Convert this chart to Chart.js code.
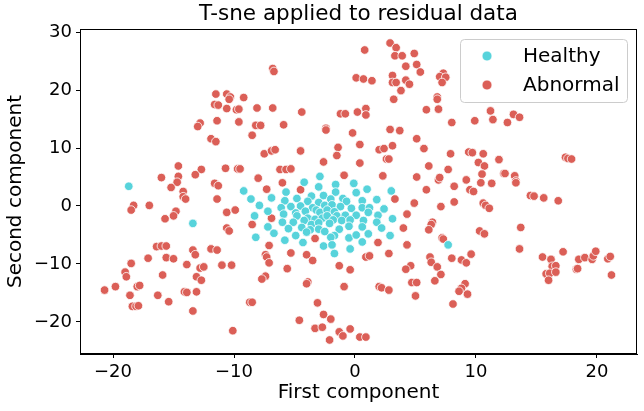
<!DOCTYPE html>
<html>
<head>
<meta charset="utf-8">
<script src="https://cdn.jsdelivr.net/npm/chart.js@4.4.0/dist/chart.umd.min.js"></script>
<style>
  html, body { margin: 0; padding: 0; background: #fff; }
  #wrap { position: relative; width: 644px; height: 411px; }
</style>
</head>
<body>
<div id="wrap"><canvas id="tsneChart"></canvas></div>
<script>
// Series (t-SNE components)
const seriesNames = ['Healthy', 'Abnormal'];
const seriesColors = ['#57d3db', '#db5f57'];

const healthyX = [-18.7,-13.4,-9.2,-8.6,-7.9,-6.9,-5.7,-4.2,-2.9,-3.0,
  -1.6,-1.6,-0.1,0.1,-3.6,-2.6,-4.8,-5.8,-3.9,-3.0,
  -2.0,-1.0,-0.7,-5.3,-6.1,-4.5,-3.5,-2.5,-1.9,-1.2,
  -0.3,-7.2,-8.3,-5.9,-4.9,-4.1,-3.2,-2.9,-2.3,-1.7,
  -1.5,-0.8,0.1,-4.8,-3.9,-3.3,-2.7,-2.3,-1.8,-1.1,
  -6.0,-5.1,-4.2,-3.6,-3.0,-2.1,-0.4,-7.2,-5.5,-4.4,
  -3.7,-3.0,-2.5,-1.3,-0.5,-6.7,-8.2,-5.8,-4.9,-4.0,
  -1.7,-2.0,-0.5,0.1,-4.3,-2.6,-1.9,-1.7,-0.4,1.0,
  3.0,0.6,1.8,0.6,1.2,2.4,1.1,1.9,3.1,0.7,
  1.8,0.6,2.2,1.1,2.9,0.6,7.7];
const healthyY = [3.4,-3.0,2.6,1.2,0.1,1.4,2.4,4.1,5.1,3.3,
  3.7,2.4,3.9,2.3,1.7,1.8,1.3,0.9,0.8,0.6,
  1.2,1.3,0.8,-0.1,-0.3,0.0,-0.3,0.1,0.2,-0.1,
  -0.4,-0.9,-1.7,-1.4,-1.2,-0.9,-0.7,-1.1,-0.7,-1.0,
  -1.7,-1.6,-1.6,-1.7,-2.1,-2.3,-2.1,-1.7,-2.4,-2.5,
  -2.8,-2.8,-2.5,-3.2,-2.9,-3.0,-2.4,-3.6,-3.9,-3.7,
  -4.1,-4.0,-4.4,-4.0,-3.5,-4.7,-5.4,-5.9,-5.1,-4.5,
  -5.1,-5.4,-5.5,-5.0,-6.3,-6.9,-6.7,-8.2,-7.4,2.9,
  2.6,0.9,1.1,-0.3,-0.3,-0.5,-1.1,-1.6,-2.2,-2.5,
  -2.8,-3.6,-3.8,-4.8,-5.1,-6.2,-6.7];

const abnormalX = [-11.5,-11.6,-11.3,-11.4,-12.8,-13.0,-6.8,-6.7,0.1,-10.6,
  -10.3,-10.4,-9.2,-10.6,-9.8,-9.6,-8.1,-6.8,-4.4,-1.2,
  -0.8,0.2,-9.6,-8.2,-7.8,-5.9,-2.4,-0.2,-8.5,0.8,
  2.9,3.4,3.3,3.9,4.9,4.2,5.1,5.4,0.7,1.4,
  3.1,3.1,3.4,4.2,4.5,3.8,3.2,7.3,7.0,7.5,
  7.2,6.8,6.8,5.9,6.9,0.9,0.9,8.0,9.9,11.2,
  11.4,2.9,3.7,13.1,13.6,12.6,-11.9,-11.5,-14.6,-12.7,
  -13.2,-16.0,-14.6,-14.7,-15.2,-11.6,-11.3,-14.2,-14.2,-14.0,
  -11.4,-18.3,-18.5,-17.0,-14.8,-15.0,-15.7,-2.4,-7.5,-6.9,
  -6.6,-4.5,-1.4,-1.5,0.4,-2.6,0.4,-10.7,-9.7,-9.5,
  -6.2,-5.7,-5.3,-8.0,-6.0,-0.9,-4.5,-7.3,-10.6,-9.9,
  -6.9,-8.5,-10.6,-10.4,-3.3,-7.1,5.1,2.0,2.4,3.1,
  5.7,2.6,2.8,7.9,9.4,9.7,10.6,10.2,10.7,11.9,
  6.1,7.7,2.3,5.1,6.9,7.0,10.5,9.2,10.4,11.3,
  8.2,5.9,9.5,9.8,3.3,4.9,8.2,7.1,10.6,10.8,
  11.1,4.3,6.4,6.3,4.0,6.1,10.3,10.7,7.2,7.3,
  1.9,4.3,17.4,17.6,17.9,12.3,12.4,13.2,13.3,13.3,
  14.5,14.8,15.6,16.8,13.7,-16.4,-16.0,-15.6,-13.4,-13.2,
  -11.9,-11.4,-17.1,-15.6,-15.0,-18.5,-13.9,-12.8,-12.5,-19.0,
  -18.9,-15.9,-13.1,-12.7,-20.7,-19.8,-18.0,-17.8,-18.6,-16.3,
  -14.1,-13.9,-13.1,-15.4,-18.4,-18.1,-17.9,-13.4,-7.4,-7.3,
  -5.3,-4.0,-3.5,-7.1,-11.0,-10.2,-5.6,-1.3,-0.4,-7.4,
  -7.7,-3.9,-4.0,-0.9,-8.7,-8.5,-3.1,-2.6,-2.0,-4.6,
  -3.3,-2.7,-1.3,-1.0,-0.4,-2.1,-10.1,0.4,0.9,1.2,
  2.8,6.2,6.3,6.8,8.0,8.8,9.2,9.6,4.6,4.2,
  7.1,4.7,5.1,6.6,2.0,2.2,2.8,5.0,9.1,8.8,
  8.6,9.3,8.1,0.9,13.6,15.5,16.2,17.2,18.5,19.0,
  19.6,19.7,19.9,20.9,21.1,16.3,16.6,15.8,16.1,16.6,
  18.3,18.4,16.0,21.2];
const abnormalY = [19.3,17.5,17.4,14.7,14.3,13.7,23.7,23.2,22.1,19.3,
  18.8,18.4,18.7,16.8,16.6,16.7,16.9,16.9,16.2,15.9,
  15.9,16.2,14.5,13.9,13.9,14.0,13.4,12.6,12.2,26.9,
  28.1,27.3,25.9,25.9,26.3,24.1,24.4,23.1,21.9,21.6,
  22.5,21.3,21.3,21.7,21.0,19.9,18.4,22.9,22.3,22.2,
  21.3,18.8,18.4,16.6,16.7,16.8,15.7,14.4,14.7,16.4,
  14.9,13.2,13.0,15.8,15.3,14.4,11.6,11.1,6.9,6.3,
  5.4,4.9,5.1,4.1,3.2,3.9,3.5,2.5,1.6,1.2,
  1.2,0.1,-0.7,0.1,-0.9,-1.7,-2.2,13.1,9.0,9.5,
  9.7,9.5,10.1,8.7,10.6,7.6,7.4,6.5,6.4,6.4,
  6.3,6.3,6.4,4.8,4.0,5.3,2.8,2.9,-1.1,-0.7,
  -2.1,-3.2,-3.8,-4.3,-5.6,-6.8,11.6,9.7,9.9,10.4,
  9.9,8.1,8.1,9.0,9.3,9.2,9.0,7.5,6.9,8.0,
  6.9,6.3,5.2,5.0,4.5,4.9,5.5,4.5,4.0,3.9,
  3.4,2.8,2.8,2.5,1.2,0.5,0.7,-0.1,0.5,0.1,
  -0.4,-1.4,-2.8,-3.2,-3.8,-4.1,-4.3,-4.8,-5.5,-5.7,
  -6.3,-6.7,8.4,8.2,8.1,5.6,5.6,5.2,4.3,4.0,
  1.8,1.7,1.4,0.9,-3.7,-7.0,-6.9,-6.9,-7.6,-8.4,
  -7.4,-7.6,-9.0,-8.9,-9.1,-9.9,-10.1,-10.7,-10.5,-11.4,
  -12.2,-11.9,-12.2,-12.8,-14.5,-13.9,-13.9,-13.7,-15.4,-15.4,
  -14.8,-14.9,-14.8,-16.5,-17.3,-17.3,-17.2,-18.1,-8.4,-8.8,
  -8.1,-8.4,-9.4,-9.8,-10.2,-10.2,-10.8,-10.3,-11.0,-12.1,
  -12.6,-13.1,-13.4,-13.9,-16.6,-16.6,-16.7,-18.7,-19.5,-19.7,
  -21.1,-20.9,-21.7,-22.4,-21.2,-23.1,-21.5,-22.6,-8.8,-8.6,
  -8.2,-8.8,-9.7,-10.5,-9.0,-9.3,-9.8,-8.3,-10.3,-10.9,
  -11.8,-13.2,-13.2,-12.9,-13.9,-14.1,-14.5,-15.5,-13.4,-14.2,
  -14.7,-15.2,-16.9,-22.6,-7.4,-8.8,-9.2,-7.9,-9.2,-8.9,
  -9.2,-8.6,-7.8,-9.1,-8.7,-10.4,-10.3,-11.7,-11.6,-11.4,
  -10.9,-10.8,-12.8,-11.9];

const xTickValues = [-20, -10, 0, 10, 20];
const yTickValues = [-20, -10, 0, 10, 20, 30];

function toPoints(xs, ys) {
    return xs.map((x, i) => ({ x: x, y: ys[i] }));
}

function fmtTick(v) {
    return v < 0 ? '\u2212' + Math.abs(v) : String(v);
}

Chart.defaults.font.family = '"DejaVu Sans", sans-serif';
Chart.defaults.color = '#000';

// black box around the plot area (matplotlib spines)
const framePlugin = {
    id: 'frame',
    afterDatasetsDraw(chart) {
        const { ctx, chartArea: a } = chart;
        ctx.save();
        ctx.strokeStyle = '#000';
        ctx.lineWidth = 1;
        ctx.strokeRect(a.left + 0.5, a.top + 0.5, a.right - a.left - 1, a.bottom - a.top - 1);
        ctx.restore();
    }
};

// legend drawn inside the plot, top right
const innerLegend = {
    id: 'innerLegend',
    afterDraw(chart) {
        const { ctx, chartArea: a } = chart;
        const w = 167, h = 63;
        const x0 = a.right - 10 - w, y0 = a.top + 10;
        ctx.save();
        ctx.beginPath();
        ctx.roundRect(x0 + 0.5, y0 + 0.5, w, h, 4);
        ctx.fillStyle = 'rgba(255,255,255,0.8)';
        ctx.fill();
        ctx.strokeStyle = '#cccccc';
        ctx.lineWidth = 1;
        ctx.stroke();
        ctx.font = '20px "DejaVu Sans"';
        ctx.textBaseline = 'middle';
        chart.data.datasets.forEach((ds, i) => {
            const cy = y0 + 17 + i * 29;
            ctx.beginPath();
            ctx.arc(x0 + 27, cy, 5, 0, Math.PI * 2);
            ctx.fillStyle = ds.backgroundColor;
            ctx.fill();
            ctx.strokeStyle = '#fff';
            ctx.lineWidth = 0.8;
            ctx.stroke();
            ctx.fillStyle = '#000';
            ctx.fillText(ds.label, x0 + 63, cy + 1);
        });
        ctx.restore();
    }
};

const ctx = document.getElementById('tsneChart');
new Chart(ctx, {
    type: 'scatter',
    data: {
        datasets: [{
            label: seriesNames[0],
            data: toPoints(healthyX, healthyY),
            backgroundColor: seriesColors[0],
            borderColor: '#ffffff',
            borderWidth: 0.8,
            pointRadius: 4.3,
            pointHoverRadius: 4.3
        }, {
            label: seriesNames[1],
            data: toPoints(abnormalX, abnormalY),
            backgroundColor: seriesColors[1],
            borderColor: '#ffffff',
            borderWidth: 0.8,
            pointRadius: 4.3,
            pointHoverRadius: 4.3
        }]
    },
    options: {
        responsive: true,
        maintainAspectRatio: false,
        animation: false,
        events: [],
        layout: {
            padding: { left: 0, right: 7, top: 0, bottom: 0 }
        },
        plugins: {
            legend: { display: false },
            tooltip: { enabled: false },
            title: {
                display: true,
                text: 'T-sne applied to residual data',
                fullSize: false,
                color: '#000',
                font: { size: 21.5, weight: 'normal', lineHeight: 1.2 },
                padding: { top: 2, bottom: 1.2 }
            }
        },
        scales: {
            x: {
                type: 'linear',
                min: -22.73,
                max: 23.31,
                afterBuildTicks(scale) {
                    scale.ticks = xTickValues.map(v => ({ value: v }));
                },
                afterFit(scale) { scale.height = 57; },
                grid: { drawOnChartArea: false, drawTicks: true, tickLength: 4, color: '#000' },
                border: { display: true, color: '#000', width: 1 },
                ticks: {
                    padding: 4,
                    font: { size: 18 },
                    color: '#000',
                    callback: fmtTick
                },
                title: {
                    display: true,
                    text: 'First component',
                    color: '#000',
                    font: { size: 20, lineHeight: 1.2 },
                    padding: { top: 0, bottom: 6 }
                }
            },
            y: {
                type: 'linear',
                min: -25.52,
                max: 30.52,
                afterBuildTicks(scale) {
                    scale.ticks = yTickValues.map(v => ({ value: v }));
                },
                afterFit(scale) { scale.width = 80; },
                grid: { drawOnChartArea: false, drawTicks: true, tickLength: 4, color: '#000' },
                border: { display: true, color: '#000', width: 1 },
                ticks: {
                    padding: 4,
                    font: { size: 18 },
                    color: '#000',
                    callback: fmtTick
                },
                title: {
                    display: true,
                    text: 'Second component',
                    color: '#000',
                    font: { size: 20, lineHeight: 1.2 },
                    padding: { top: 4, bottom: 0 }
                }
            }
        }
    },
    plugins: [framePlugin, innerLegend]
});
</script>
</body>
</html>
